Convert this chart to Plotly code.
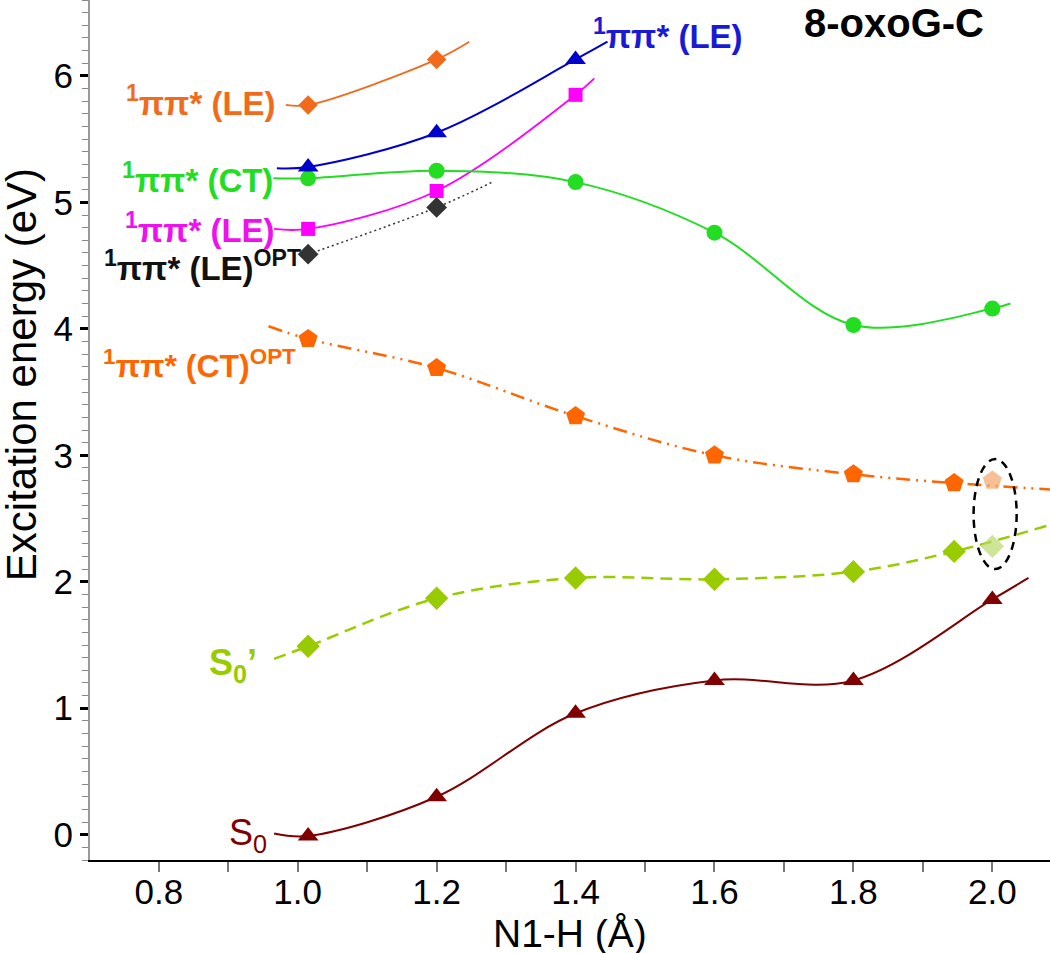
import plotly.graph_objects as go

# --- data (N1-H distance in Å, energy in eV) ---
s0_x = [1.015, 1.2, 1.4, 1.6, 1.8, 2.0]
s0_y = [-0.01, 0.30, 0.96, 1.22, 1.22, 1.86]

s0p_x = [1.015, 1.2, 1.4, 1.6, 1.8, 1.945]
s0p_y = [1.49, 1.87, 2.03, 2.02, 2.08, 2.24]

ct_opt_x = [1.015, 1.2, 1.4, 1.6, 1.8, 1.945]
ct_opt_y = [3.92, 3.69, 3.31, 3.00, 2.85, 2.78]

le_opt_x = [1.015, 1.2]
le_opt_y = [4.59, 4.96]

le_mag_x = [1.015, 1.2, 1.4]
le_mag_y = [4.79, 5.09, 5.85]

ct_x = [1.015, 1.2, 1.4, 1.6, 1.8, 2.0]
ct_y = [5.19, 5.25, 5.16, 4.76, 4.03, 4.16]

le_blue_x = [1.015, 1.2, 1.4]
le_blue_y = [5.28, 5.55, 6.13]

le_orange_x = [1.015, 1.2]
le_orange_y = [5.77, 6.13]

# highlighted (faded) points inside the dashed ellipse
hl_x = 2.0
hl_s0p = 2.28
hl_ct_opt = 2.80

# where the drawn curves start / stop beyond the computed points
s0_ends = [(0.966, 0.01), (2.052, 2.03)]
s0p_ends = [(0.966, 1.39), (2.083, 2.45)]
ct_opt_ends = [(0.958, 4.02), (2.083, 2.73)]
le_opt_ends = [None, (1.28, 5.16)]
le_mag_ends = [(0.966, 4.79), (1.427, 5.98)]
ct_ends = [(0.965, 5.19), (2.026, 4.20)]
le_blue_ends = [(0.97, 5.27), (1.446, 6.27)]
le_orange_ends = [(0.983, 5.77), (1.247, 6.27)]

FONT = "Arial, Liberation Sans, sans-serif"

fig = go.Figure()


def curve(xs, ys, ends):
    cx, cy = list(xs), list(ys)
    if ends[0]:
        cx.insert(0, ends[0][0]); cy.insert(0, ends[0][1])
    if ends[1]:
        cx.append(ends[1][0]); cy.append(ends[1][1])
    return cx, cy


def add_series(xs, ys, ends, color, symbol, msize, dash="solid", width=2, mcolor=None):
    cx, cy = curve(xs, ys, ends)
    fig.add_trace(go.Scatter(x=cx, y=cy, mode="lines",
                             line=dict(color=color, width=width, dash=dash, shape="spline", smoothing=1.0),
                             hoverinfo="skip", showlegend=False))
    fig.add_trace(go.Scatter(x=xs, y=ys, mode="markers",
                             marker=dict(symbol=symbol, size=msize, color=mcolor or color, line=dict(width=0)),
                             showlegend=False))


add_series(s0_x, s0_y, s0_ends, "#7f0000", "triangle-up", 18)
add_series(s0p_x, s0p_y, s0p_ends, "#99cc00", "diamond", 18, dash="12px,7px", width=2.5)
add_series(ct_opt_x, ct_opt_y, ct_opt_ends, "#ff6600", "pentagon", 20,
           dash="14px,6px,2px,6px,2px,6px", width=2.5)
add_series(le_opt_x, le_opt_y, le_opt_ends, "#333333", "diamond", 16, dash="2px,3px", width=1.5)
add_series(le_mag_x, le_mag_y, le_mag_ends, "#ff00ff", "square", 14, width=1.8)
add_series(ct_x, ct_y, ct_ends, "#22dd22", "circle", 16, width=2)
add_series(le_blue_x, le_blue_y, le_blue_ends, "#0000cc", "triangle-up", 18, width=2)
add_series(le_orange_x, le_orange_y, le_orange_ends, "#f26b1d", "diamond", 15, width=1.8)

# faded highlighted points
fig.add_trace(go.Scatter(x=[hl_x, hl_x], y=[hl_ct_opt, hl_s0p], mode="markers",
                         marker=dict(symbol=["pentagon", "diamond"], size=[20, 18],
                                     color=["#f4a46a", "#b9d86a"], line=dict(width=0)),
                         showlegend=False))

# dashed ellipse around highlighted points
fig.add_shape(type="circle", xref="x", yref="y",
              x0=hl_x - 0.027, x1=hl_x + 0.035,
              y0=hl_s0p - 0.18, y1=hl_ct_opt + 0.17,
              line=dict(color="black", width=2.5, dash="8px,6px"))


def label(text, x, y, color, anchor="right", size=33, bold=True):
    t = "<b>" + text + "</b>" if bold else text
    fig.add_annotation(x=x, y=y, xref="x", yref="y", text=t, showarrow=False,
                       xanchor=anchor, yanchor="middle",
                       font=dict(family=FONT, size=size, color=color))


label("<sup>1</sup>ππ* (LE)", 0.972, 5.80, "#f26b1d")
label("<sup>1</sup>ππ* (CT)", 0.967, 5.19, "#22dd22")
label("<sup>1</sup>ππ* (LE)", 0.970, 4.80, "#ee11ee")
label("<sup>1</sup>ππ* (LE)<sup>OPT</sup>", 1.008, 4.50, "#111111")
label("<sup>1</sup>ππ* (CT)<sup>OPT</sup>", 1.000, 3.72, "#ff6600", size=32)
label("<sup>1</sup>ππ* (LE)", 1.422, 6.33, "#1a1ad6", anchor="left")
label("S<sub>0</sub>’", 0.944, 1.34, "#99cc00", size=36)
label("S<sub>0</sub>", 0.958, 0.00, "#7f0000", size=36, bold=False)
label("8-oxoG-C", 1.858, 6.42, "black", anchor="center", size=40)

# axis titles
fig.add_annotation(x=-0.071, y=3.64, xref="paper", yref="y", text="Excitation energy (eV)",
                   textangle=-90, showarrow=False, xanchor="center", yanchor="middle",
                   font=dict(family=FONT, size=42, color="black"))
fig.add_annotation(x=0.5, y=-0.086, xref="paper", yref="paper", text="N1-H (Å)",
                   showarrow=False, xanchor="center", yanchor="middle",
                   font=dict(family=FONT, size=39, color="black"))

fig.update_xaxes(range=[0.701, 2.083], tick0=0.8, dtick=0.2, tickformat=".1f",
                 ticks="outside", ticklen=10, tickwidth=1.5, tickcolor="#777",
                 ticklabelstandoff=-10,
                 minor=dict(tick0=0.7, dtick=0.2, ticks="outside", ticklen=10, tickwidth=1.5, tickcolor="#777"),
                 showline=True, linecolor="black", linewidth=1.8,
                 showgrid=False, zeroline=False,
                 tickfont=dict(family=FONT, size=35, color="black"))
fig.update_yaxes(range=[-0.2, 6.6], tick0=0, dtick=1,
                 ticks="outside", ticklen=8, tickwidth=3, tickcolor="black",
                 minor=dict(dtick=0.1, ticks="outside", ticklen=6, tickwidth=1.2, tickcolor="#888"),
                 showline=True, linecolor="#999", linewidth=2,
                 showgrid=False, zeroline=False,
                 tickfont=dict(family=FONT, size=35, color="black"))

fig.update_layout(width=1050, height=953, plot_bgcolor="white", paper_bgcolor="white",
                  margin=dict(l=90, r=0, t=0, b=93), showlegend=False)

fig.write_html("out.html", config={"displayModeBar": False})

# drop the browser's default page margin so the figure sits at the window corner
with open("out.html", encoding="utf-8") as f:
    page = f.read()
page = page.replace("<body>", '<body style="margin:0;overflow:hidden">', 1)
with open("out.html", "w", encoding="utf-8") as f:
    f.write(page)
